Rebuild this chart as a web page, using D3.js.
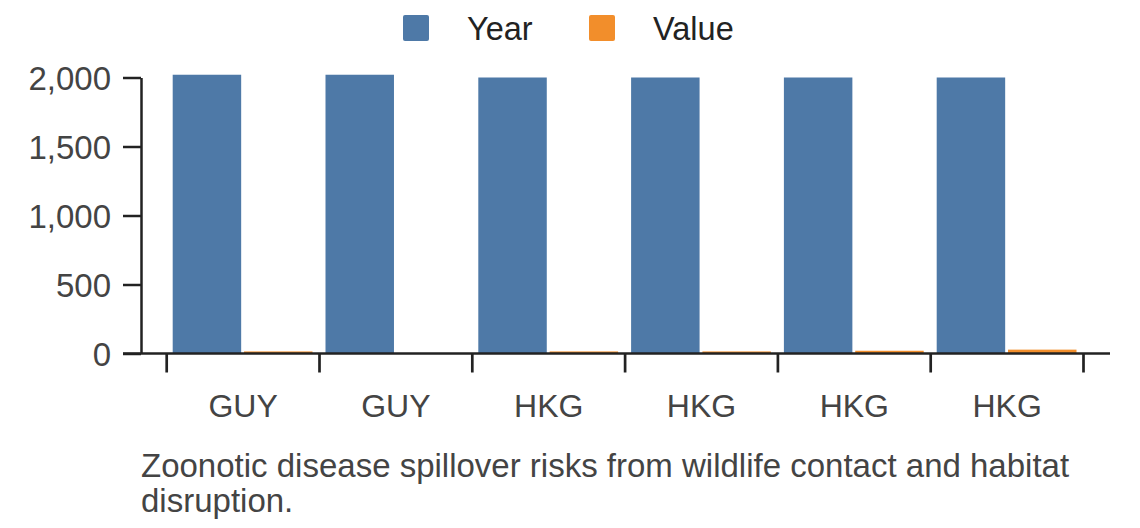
<!DOCTYPE html>
<html><head><meta charset="utf-8">
<script src="https://cdn.jsdelivr.net/npm/d3@7"></script>
<style>
html,body{margin:0;padding:0;background:#fff;}
svg{display:block;font-family:"Liberation Sans",Arial,sans-serif;}
</style></head>
<body><svg id="c" width="1140" height="528"></svg>
<script>
const categories = ["GUY","GUY","HKG","HKG","HKG","HKG"];
const seriesNames = ["Year","Value"];
const yearValues = [2020, 2020, 2000, 2000, 2000, 2000];
const valueValues = [15, 0, 15, 15, 20, 28];
const yTicks = [0, 500, 1000, 1500, 2000];
const colors = ["#4e79a7", "#f28e2b"];
const caption = ["Zoonotic disease spillover risks from wildlife contact and habitat", "disruption."];

const rows = categories.map((c,i)=>({i, cat:c, Year:yearValues[i], Value:valueValues[i]}));
const svg = d3.select("#c");

const x0 = d3.scaleBand().domain(rows.map(d=>d.i)).range([166.7, 1083.5]).padding(0);
const x1 = d3.scaleBand().domain(seriesNames).range([6, x0.bandwidth()-7]).paddingInner(0.04);
const y = d3.scaleLinear().domain([0, 2000]).range([353.5, 77.5]);
const color = d3.scaleOrdinal().domain(seriesNames).range(colors);

// bars
const g = svg.append("g");
g.selectAll("g.grp").data(rows).join("g").attr("class","grp")
  .attr("transform", d=>`translate(${x0(d.i)},0)`)
  .selectAll("rect").data(d=>seriesNames.map(k=>({k, v:d[k]})))
  .join("rect")
  .attr("x", d=>x1(d.k)).attr("width", x1.bandwidth())
  .attr("y", d=>y(d.v)).attr("height", d=>y(0)-y(d.v))
  .attr("fill", d=>color(d.k));

// y axis
const yAxis = svg.append("g").attr("transform","translate(141,0)")
  .call(d3.axisLeft(y).tickValues(yTicks).tickFormat(d3.format(",")).tickSize(18).tickSizeOuter(0).tickPadding(12));
yAxis.select(".domain").attr("stroke","#222").attr("stroke-width",2.5);
yAxis.selectAll(".tick line").attr("stroke","#222").attr("stroke-width",2.5);
yAxis.selectAll(".tick text").attr("fill","#444").style("font-size","33px")
  .style("font-family","'Liberation Sans',Arial,sans-serif").attr("dy","0.36em");

// x axis line
svg.append("line").attr("x1",123).attr("x2",1110).attr("y1",y(0)).attr("y2",y(0))
  .attr("stroke","#222").attr("stroke-width",2.5);
// x ticks at band boundaries
const bounds = rows.map(d=>x0(d.i)).concat([x0(rows[rows.length-1].i)+x0.bandwidth()]);
svg.append("g").selectAll("line").data(bounds).join("line")
  .attr("x1",d=>d).attr("x2",d=>d).attr("y1",y(0)).attr("y2",y(0)+19)
  .attr("stroke","#222").attr("stroke-width",2.7);
svg.append("g").selectAll("text").data(rows).join("text")
  .attr("x",d=>x0(d.i)+x0.bandwidth()/2).attr("y",416.5)
  .attr("text-anchor","middle").attr("fill","#444").style("font-size","32px")
  .text(d=>d.cat);

// legend
const leg = svg.append("g");
const legX = [403, 589];
seriesNames.forEach((s,i)=>{
  leg.append("rect").attr("x",legX[i]).attr("y",15).attr("width",26).attr("height",26)
    .attr("rx",2).attr("fill",color(s));
  leg.append("text").attr("x",legX[i]+64).attr("y",40).attr("fill","#222")
    .style("font-size","32.5px").text(s);
});

// caption
svg.append("g").selectAll("text").data(caption).join("text")
  .attr("x",141).attr("y",(d,i)=>476.7+i*35).attr("fill","#444")
  .style("font-size","33px").text(d=>d);
</script></body></html>
